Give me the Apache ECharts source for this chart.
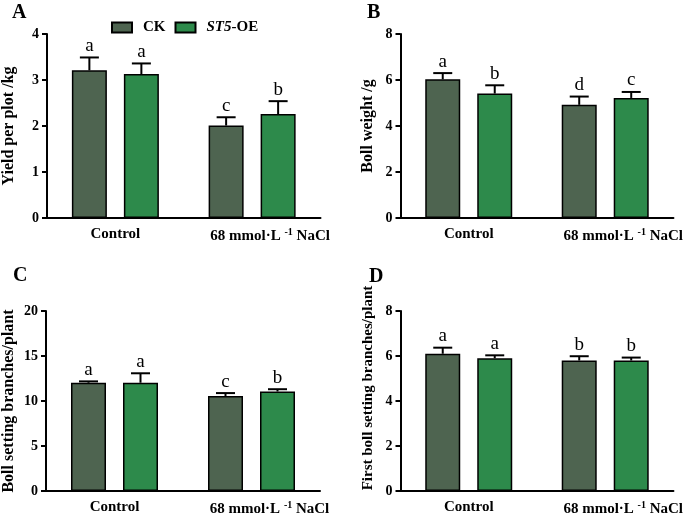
<!DOCTYPE html>
<html>
<head>
<meta charset="utf-8">
<script src="https://cdn.jsdelivr.net/npm/echarts@6/dist/echarts.min.js"></script>
<style>
html,body{margin:0;padding:0;background:#fff;}
#chart{width:685px;height:517px;}
</style>
</head>
<body>
<div id="chart"></div>
<script>
// ---------- data ----------
const categories = ['Control', '68 mmol·L-1 NaCl'];
const seriesNames = ['CK', 'ST5-OE'];
const panelLetters = ['A', 'B', 'C', 'D'];
const yNames = ['Yield per plot /kg', 'Boll weight /g', 'Boll setting branches/plant', 'First boll setting branches/plant'];
const yMax = [4, 8, 20, 8];
const yStep = [1, 2, 5, 2];

const ckA = [3.21, 2.01];      const ckErrA = [0.28, 0.18];   const ckSigA = ['a', 'c'];
const stA = [3.13, 2.26];      const stErrA = [0.23, 0.28];   const stSigA = ['a', 'b'];

const ckB = [6.03, 4.92];      const ckErrB = [0.27, 0.36];   const ckSigB = ['a', 'd'];
const stB = [5.41, 5.22];      const stErrB = [0.36, 0.26];   const stSigB = ['b', 'c'];

const ckC = [12.03, 10.55];    const ckErrC = [0.15, 0.33];   const ckSigC = ['a', 'c'];
const stC = [12.03, 11.06];    const stErrC = [1.05, 0.25];   const stSigC = ['a', 'b'];

const ckD = [6.10, 5.80];      const ckErrD = [0.27, 0.19];   const ckSigD = ['a', 'b'];
const stD = [5.90, 5.80];      const stErrD = [0.13, 0.13];   const stSigD = ['a', 'b'];

// ---------- styles ----------
const FONT = '"Liberation Serif", "Times New Roman", serif';
const colCK = '#4e6450';
const colST = '#2d8a4b';
const BAR_W = 35;
const BAR_GAP = 17;
const OFFSET = (BAR_W + BAR_GAP) / 2;

const panels = [
  {ck: ckA, ckErr: ckErrA, ckSig: ckSigA, st: stA, stErr: stErrA, stSig: stSigA},
  {ck: ckB, ckErr: ckErrB, ckSig: ckSigB, st: stB, stErr: stErrB, stSig: stSigB},
  {ck: ckC, ckErr: ckErrC, ckSig: ckSigC, st: stC, stErr: stErrC, stSig: stSigC},
  {ck: ckD, ckErr: ckErrD, ckSig: ckSigD, st: stD, stErr: stErrD, stSig: stSigD}
];

const grids = [
  {left: 43.5, top: 34, width: 277, height: 184},
  {left: 400.5, top: 34, width: 277, height: 184},
  {left: 43, top: 311, width: 277, height: 185},
  {left: 400.5, top: 311, width: 277, height: 185}
];
const nameGaps = [30, 25, 29, 25];
const nameSizes = [16, 16, 16, 15];
const namePads = [[0, 0, 0, 0], [0, 0, 0, 0], [0, 0, 0, 0], [0, 0, 0, 26]];
const titlePos = [[12, 3], [367, 3], [13, 266], [369, 267]];

const axisLineStyle = {color: '#000', width: 2};

const xAxes = grids.map((g, i) => ({
  type: 'category', gridIndex: i, data: categories,
  axisLine: {lineStyle: axisLineStyle},
  axisTick: {alignWithLabel: true, length: 5, lineStyle: axisLineStyle},
  axisLabel: {
    interval: 0, hideOverlap: false,
    margin: 9, color: '#000', fontFamily: FONT, fontWeight: 'bold', fontSize: 15,
    formatter: v => v.indexOf('L-1') >= 0 ? '{w|}' + v.replace('L-1', 'L {sup|-1}') : v,
    rich: {
      w: {width: 36},
      sup: {fontFamily: FONT, fontWeight: 'bold', fontSize: 10, verticalAlign: 'bottom', padding: [0, 0, 9, 0]}
    }
  }
}));

const yAxes = grids.map((g, i) => ({
  type: 'value', gridIndex: i, min: 0, max: yMax[i], interval: yStep[i],
  name: yNames[i], nameLocation: 'middle', nameGap: nameGaps[i],
  nameTextStyle: {color: '#000', fontFamily: FONT, fontWeight: 'bold', fontSize: nameSizes[i], padding: namePads[i]},
  axisLine: {show: true, lineStyle: axisLineStyle},
  axisTick: {show: true, length: 5, lineStyle: axisLineStyle},
  splitLine: {show: false},
  axisLabel: {margin: 8, color: '#000', fontFamily: FONT, fontWeight: 'bold', fontSize: 14}
}));

function errSeries(i, vals, errs, sigs, sign) {
  return {
    type: 'custom', xAxisIndex: i, yAxisIndex: i, z: 5, silent: true,
    data: vals.map((v, k) => [k, v, errs[k]]),
    renderItem: (params, api) => {
      const k = api.value(0);
      const base = api.coord([k, api.value(1)]);
      const top = api.coord([k, api.value(1) + api.value(2)]);
      const x = base[0] + sign * OFFSET;
      return {
        type: 'group',
        children: [
          {type: 'line', shape: {x1: x, y1: base[1], x2: x, y2: top[1]}, style: {stroke: '#000', lineWidth: 2}},
          {type: 'line', shape: {x1: x - 9.5, y1: top[1], x2: x + 9.5, y2: top[1]}, style: {stroke: '#000', lineWidth: 2}},
          {type: 'text', x: x, y: top[1] - 2, style: {text: sigs[params.dataIndex], fill: '#000', font: '19px ' + FONT, align: 'center', verticalAlign: 'bottom'}}
        ]
      };
    }
  };
}

const series = [];
panels.forEach((p, i) => {
  series.push({
    name: seriesNames[0], type: 'bar', xAxisIndex: i, yAxisIndex: i, data: p.ck,
    barWidth: BAR_W, barGap: (BAR_GAP / BAR_W * 100) + '%',
    itemStyle: {color: colCK, borderColor: '#000', borderWidth: 1.5}
  });
  series.push({
    name: seriesNames[1], type: 'bar', xAxisIndex: i, yAxisIndex: i, data: p.st,
    barWidth: BAR_W, barGap: (BAR_GAP / BAR_W * 100) + '%',
    itemStyle: {color: colST, borderColor: '#000', borderWidth: 1.5}
  });
  series.push(errSeries(i, p.ck, p.ckErr, p.ckSig, -1));
  series.push(errSeries(i, p.st, p.stErr, p.stSig, 1));
});

const option = {
  backgroundColor: '#fff',
  animation: false,
  title: panelLetters.map((t, i) => ({
    text: t, left: titlePos[i][0], top: titlePos[i][1], padding: 0,
    textStyle: {color: '#000', fontFamily: FONT, fontWeight: 'bold', fontSize: 20}
  })),
  legend: {
    data: seriesNames, left: 111, top: 20, padding: 0, itemGap: 9,
    itemWidth: 20, itemHeight: 10, icon: 'rect',
    formatter: n => n === 'ST5-OE' ? '{i|ST5}{n|-OE}' : '{n|' + n + '}',
    textStyle: {
      padding: [0, 0, 0, 6],
      rich: {
        i: {fontFamily: FONT, fontWeight: 'bold', fontStyle: 'italic', fontSize: 15, color: '#000'},
        n: {fontFamily: FONT, fontWeight: 'bold', fontSize: 15, color: '#000'}
      }
    }
  },
  grid: grids.map(g => Object.assign({containLabel: false}, g)),
  xAxis: xAxes,
  yAxis: yAxes,
  series: series
};

const chart = echarts.init(document.getElementById('chart'), null, {renderer: 'canvas'});
chart.setOption(option);
</script>
</body>
</html>
